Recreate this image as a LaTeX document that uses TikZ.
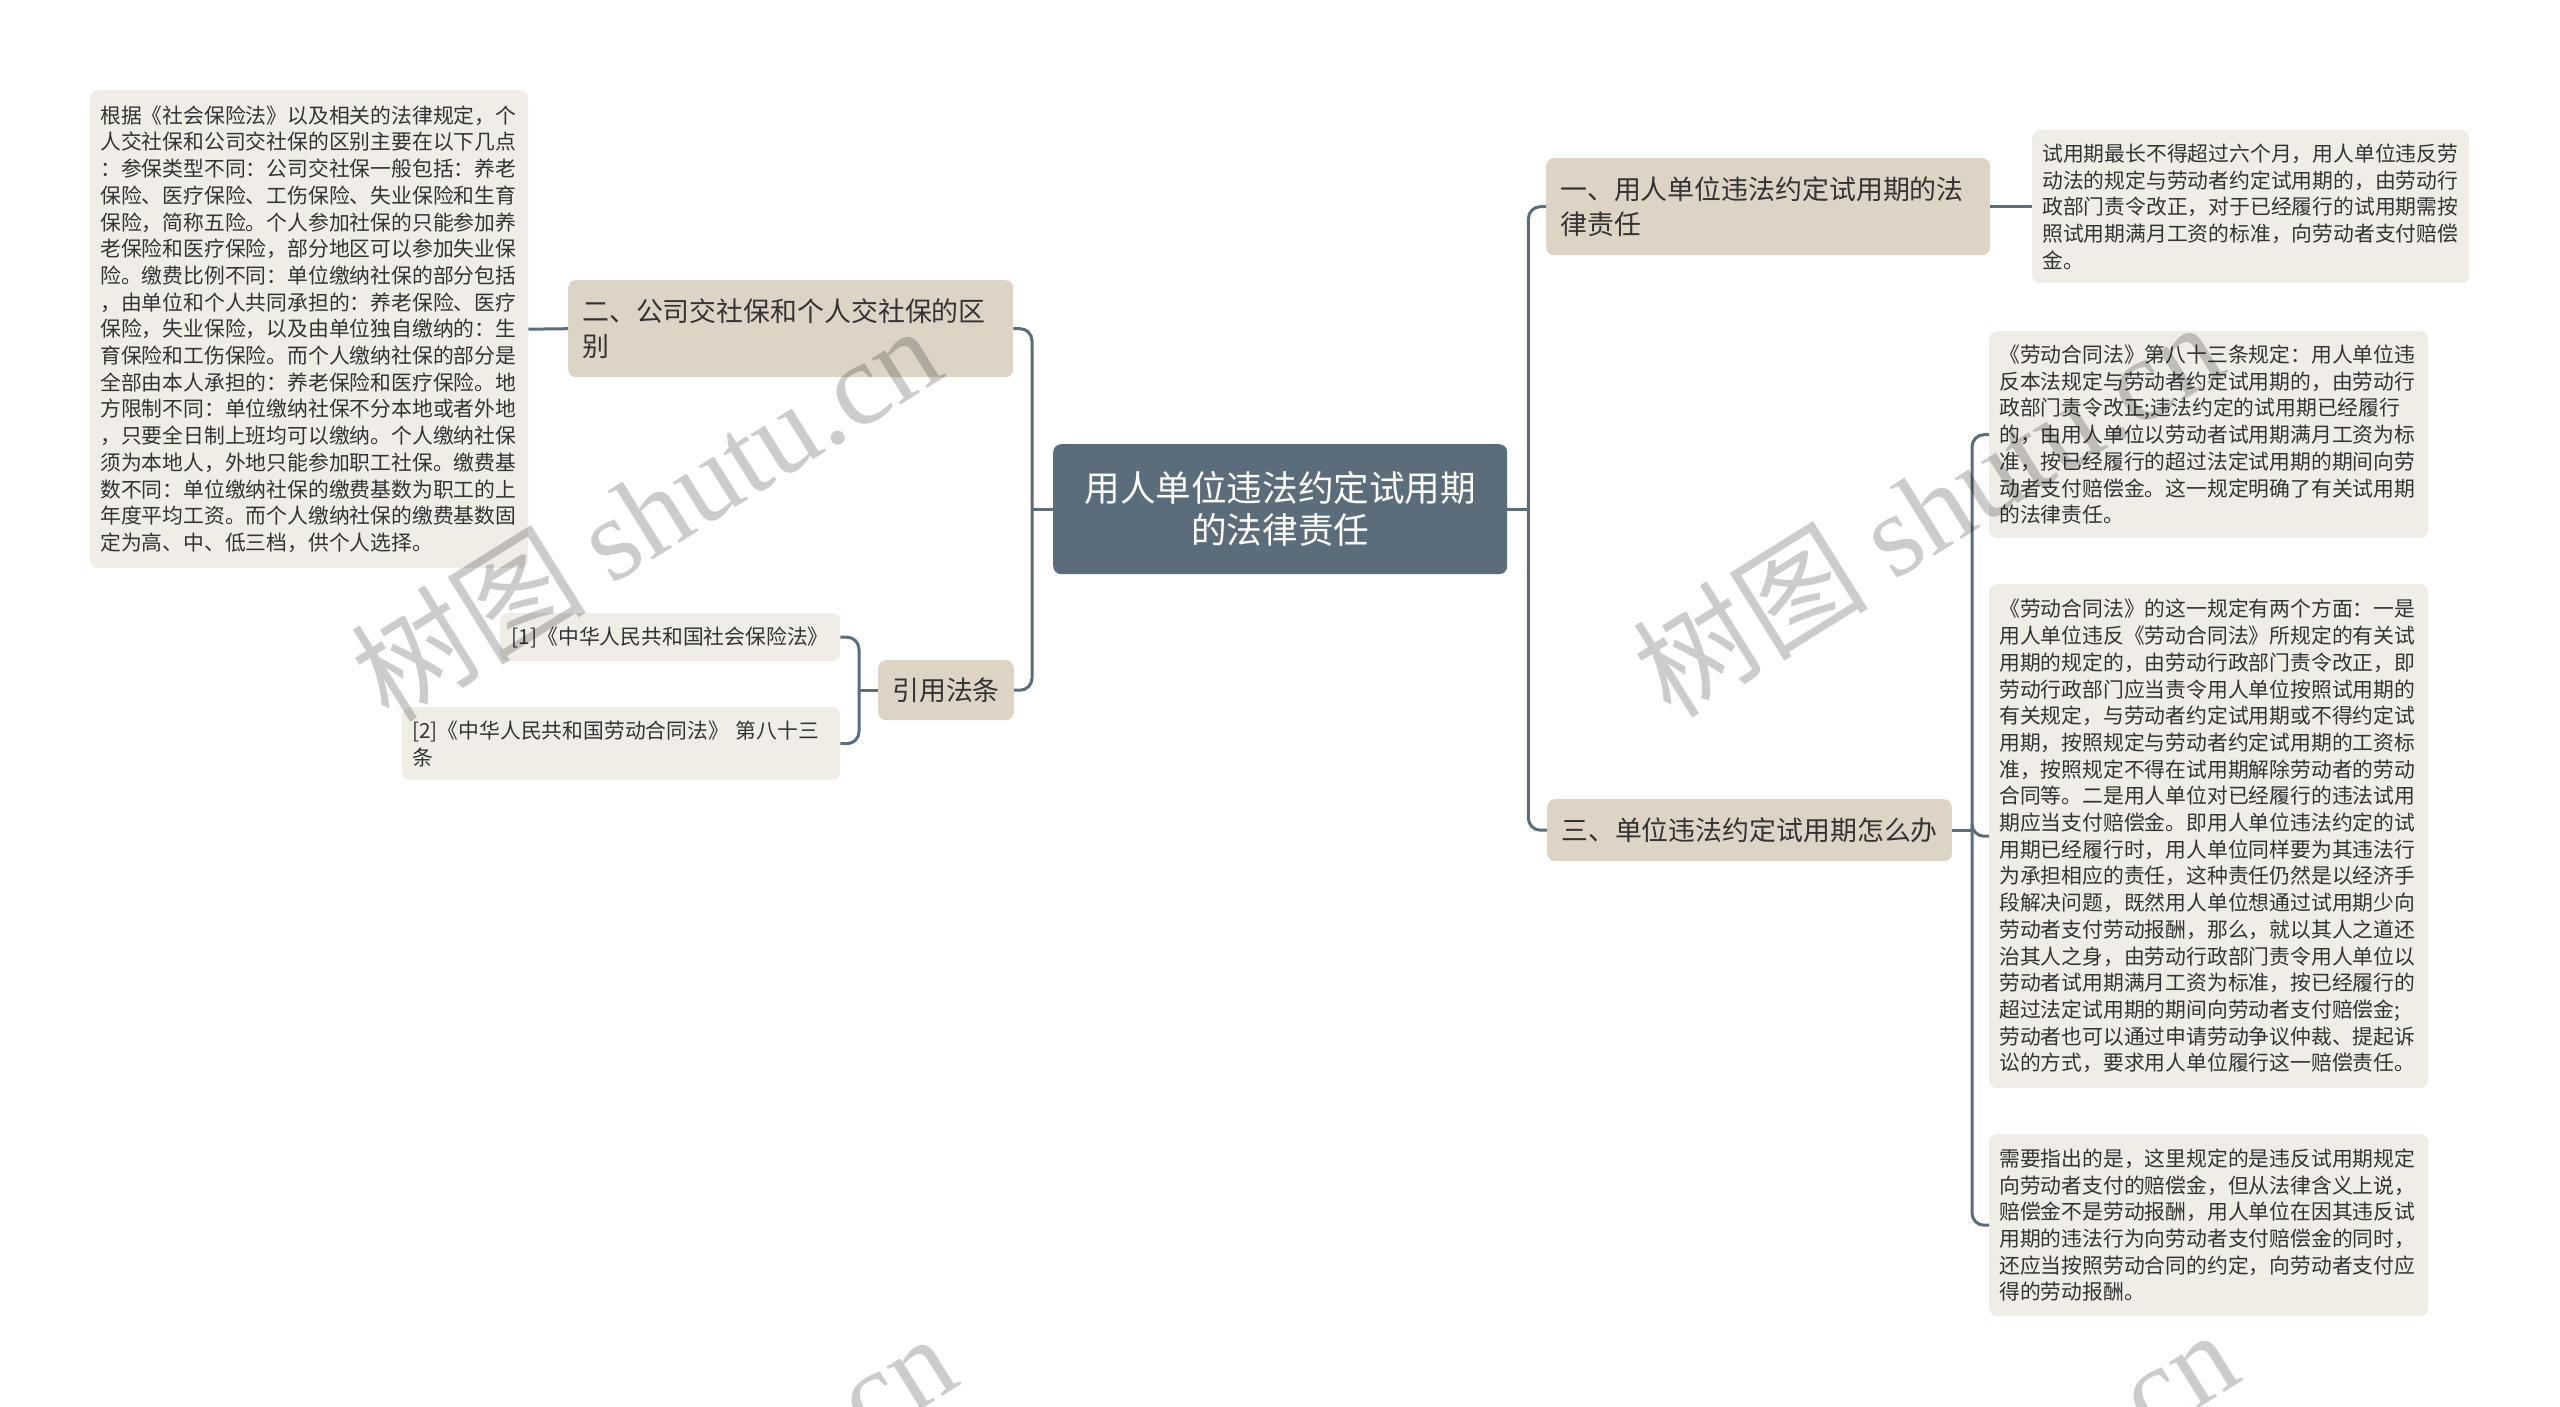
\documentclass[tikz,border=0pt]{standalone}
\usepackage{fontspec}
\setmainfont{Noto Sans CJK SC}
\newfontfamily\wmlatin{Liberation Serif}
\definecolor{rootfill}{HTML}{5B6C7A}
\definecolor{branchfill}{HTML}{DDD4C6}
\definecolor{leaffill}{HTML}{F0EDE7}
\definecolor{inktext}{HTML}{333333}
\definecolor{linkcol}{HTML}{5B6C7A}
\newcommand{\leaffont}{\fontsize{20.8}{26.7}\selectfont}
\newcommand{\branchfont}{\fontsize{26.9}{35}\selectfont}
\newcommand{\rootfont}{\fontsize{35.6}{42}\selectfont}

\begin{document}
\begin{tikzpicture}[x=1pt, y=-1pt,
    rootbox/.style={anchor=north west, fill=rootfill, text=white, rounded corners=8pt,
      font=\rootfont, align=center, inner xsep=10pt, inner ysep=0pt},
    branchbox/.style={anchor=north west, fill=branchfill, text=inktext, rounded corners=8pt,
      font=\branchfont, align=left, inner xsep=14pt, inner ysep=0pt},
    leafbox/.style={anchor=north west, fill=leaffill, text=inktext, rounded corners=8pt,
      font=\leaffont, align=left, inner xsep=10pt, inner ysep=0pt},
    link/.style={draw=linkcol, line width=3pt},
    wmark/.style={black, opacity=0.2, font=\fontsize{118}{118}\selectfont, rotate=32}]
    \useasboundingbox (0,0) rectangle (2560,1407);

    % Centre topic
    \node[rootbox, text width=434pt, minimum height=130pt] (root) at (1053,444)
        {用人单位违法约定试用期\\的法律责任};

    % Right side branches
    \node[branchbox, text width=416pt, minimum height=97pt] (duty) at (1546,158)
        {一、用人单位违法约定试用期的法\\律责任};
    \node[branchbox, align=center, minimum width=402pt, minimum height=62pt] (remedy) at (1547,799)
        {三、单位违法约定试用期怎么办};

    % Left side branches
    \node[branchbox, text width=417pt, minimum height=97pt] (social) at (568,280)
        {二、公司交社保和个人交社保的区\\别};
    \node[branchbox, align=center, minimum width=134pt, minimum height=60pt] (laws) at (878,660)
        {引用法条};

    % Leaves
    \node[leafbox, text width=417pt, minimum height=153pt] (dutytxt) at (2032,130)
        {试用期最长不得超过六个月，用人单位违反劳\\
         动法的规定与劳动者约定试用期的，由劳动行\\
         政部门责令改正，对于已经履行的试用期需按\\
         照试用期满月工资的标准，向劳动者支付赔偿\\
         金。};
    \node[leafbox, text width=419pt, minimum height=207pt] (article) at (1989,331)
        {《劳动合同法》第八十三条规定：用人单位违\\
         反本法规定与劳动者约定试用期的，由劳动行\\
         政部门责令改正;违法约定的试用期已经履行\\
         的，由用人单位以劳动者试用期满月工资为标\\
         准，按已经履行的超过法定试用期的期间向劳\\
         动者支付赔偿金。这一规定明确了有关试用期\\
         的法律责任。};
    \node[leafbox, text width=419pt, minimum height=504pt] (aspects) at (1989,584)
        {《劳动合同法》的这一规定有两个方面：一是\\
         用人单位违反《劳动合同法》所规定的有关试\\
         用期的规定的，由劳动行政部门责令改正，即\\
         劳动行政部门应当责令用人单位按照试用期的\\
         有关规定，与劳动者约定试用期或不得约定试\\
         用期，按照规定与劳动者约定试用期的工资标\\
         准，按照规定不得在试用期解除劳动者的劳动\\
         合同等。二是用人单位对已经履行的违法试用\\
         期应当支付赔偿金。即用人单位违法约定的试\\
         用期已经履行时，用人单位同样要为其违法行\\
         为承担相应的责任，这种责任仍然是以经济手\\
         段解决问题，既然用人单位想通过试用期少向\\
         劳动者支付劳动报酬，那么，就以其人之道还\\
         治其人之身，由劳动行政部门责令用人单位以\\
         劳动者试用期满月工资为标准，按已经履行的\\
         超过法定试用期的期间向劳动者支付赔偿金;\\
         劳动者也可以通过申请劳动争议仲裁、提起诉\\
         讼的方式，要求用人单位履行这一赔偿责任。};
    \node[leafbox, text width=419pt, minimum height=182pt] (wages) at (1989,1134)
        {需要指出的是，这里规定的是违反试用期规定\\
         向劳动者支付的赔偿金，但从法律含义上说，\\
         赔偿金不是劳动报酬，用人单位在因其违反试\\
         用期的违法行为向劳动者支付赔偿金的同时，\\
         还应当按照劳动合同的约定，向劳动者支付应\\
         得的劳动报酬。};
    \node[leafbox, text width=418pt, minimum height=478pt] (socialtxt) at (90,90)
        {根据《社会保险法》以及相关的法律规定，个\\
         人交社保和公司交社保的区别主要在以下几点\\
         ：参保类型不同：公司交社保一般包括：养老\\
         保险、医疗保险、工伤保险、失业保险和生育\\
         保险，简称五险。个人参加社保的只能参加养\\
         老保险和医疗保险，部分地区可以参加失业保\\
         险。缴费比例不同：单位缴纳社保的部分包括\\
         ，由单位和个人共同承担的：养老保险、医疗\\
         保险，失业保险，以及由单位独自缴纳的：生\\
         育保险和工伤保险。而个人缴纳社保的部分是\\
         全部由本人承担的：养老保险和医疗保险。地\\
         方限制不同：单位缴纳社保不分本地或者外地\\
         ，只要全日制上班均可以缴纳。个人缴纳社保\\
         须为本地人，外地只能参加职工社保。缴费基\\
         数不同：单位缴纳社保的缴费基数为职工的上\\
         年度平均工资。而个人缴纳社保的缴费基数固\\
         定为高、中、低三档，供个人选择。};
    \node[leafbox, align=center, minimum width=340pt, minimum height=48pt] (ref1) at (500,613)
        {[1]《中华人民共和国社会保险法》};
    \node[leafbox, text width=418pt, minimum height=73pt] (ref2) at (402,707)
        {[2]《中华人民共和国劳动合同法》 第八十三\\条};

    % Connectors
    \draw[link] (root.east) -- ++(21,0) coordinate (rjoin);
    \draw[link, rounded corners=12pt] (rjoin) |- (duty.west);
    \draw[link, rounded corners=12pt] (rjoin) |- (remedy.west);
    \draw[link] (root.west) -- ++(-21,0) coordinate (ljoin);
    \draw[link, rounded corners=12pt] (ljoin) |- (social.east);
    \draw[link, rounded corners=12pt] (ljoin) |- (laws.east);
    \draw[link] (duty.east) -- (dutytxt.west);
    \draw[link] (social.west) -- (socialtxt.east);
    \draw[link] (remedy.east) -- ++(20,0) coordinate (mjoin);
    \draw[link, rounded corners=12pt] (mjoin) |- (article.west);
    \draw[link, rounded corners=12pt] (mjoin) |- (aspects.west);
    \draw[link, rounded corners=12pt] (mjoin) |- (wages.west);
    \draw[link] (laws.west) -- ++(-19,0) coordinate (fjoin);
    \draw[link, rounded corners=12pt] (fjoin) |- (ref1.east);
    \draw[link, rounded corners=12pt] (fjoin) |- (ref2.east);

    % Watermarks
    \begin{scope}
        \clip (0,0) rectangle (2560,1407);
        \node[wmark] (wm1) at (645,512) {树图 {\wmlatin shutu.cn}};
        \node[wmark] (wm2) at (1927,508) {树图 {\wmlatin shutu.cn}};
        \node[wmark] (wm3) at (660,1520) {树图 {\wmlatin shutu.cn}};
        \node[wmark] (wm4) at (1942,1516) {树图 {\wmlatin shutu.cn}};
    \end{scope}
\end{tikzpicture}
\end{document}
